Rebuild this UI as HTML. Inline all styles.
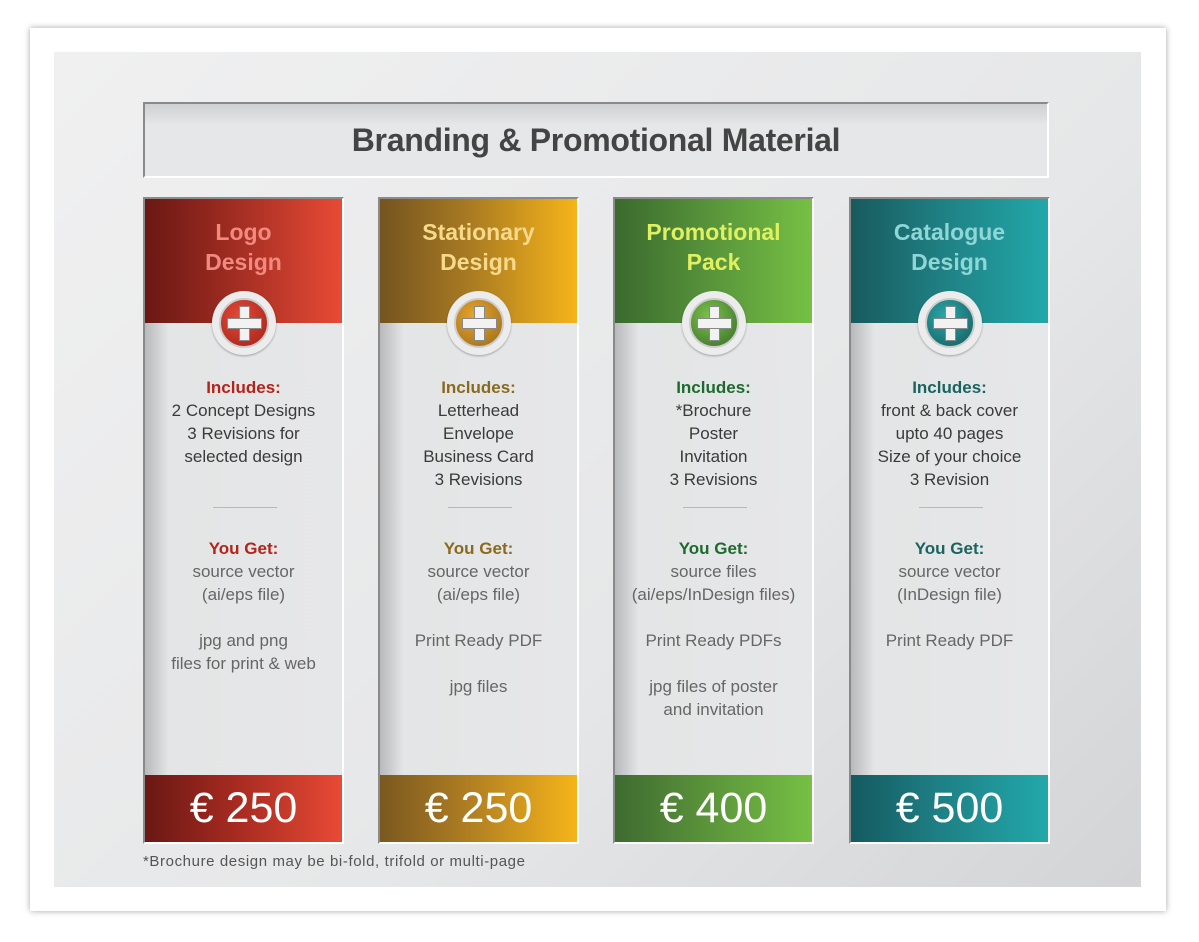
<!DOCTYPE html>
<html><head><meta charset="utf-8"><style>
*{margin:0;padding:0;box-sizing:border-box}
body{width:1199px;height:942px;background:#fff;position:relative;overflow:hidden;font-family:"Liberation Sans",sans-serif}
.frame{position:absolute;left:30px;top:28px;width:1136px;height:883px;background:#fff;box-shadow:0 0 6px rgba(0,0,0,.35)}
.panel{position:absolute;left:54px;top:52px;width:1087px;height:835px;background:linear-gradient(135deg,#f0f0f1 0%,#e6e7e8 60%,#d3d4d6 100%)}
.title{position:absolute;left:143px;top:102px;width:906px;height:76px;border-top:2px solid #8a8a8a;border-left:2px solid #8a8a8a;border-bottom:2px solid #fff;border-right:2px solid #fff;background:linear-gradient(180deg,#cfd0d2 0%,#e6e7e8 30%,#e6e7e8 100%);font-weight:bold;font-size:32px;color:#444;text-align:center;line-height:72px;letter-spacing:-0.3px}
.card{position:absolute;top:197px;width:201px;height:647px;background:linear-gradient(90deg,#b8b9bb 0%,#e4e5e6 12%,#e6e7e8 100%);border-top:2px solid #8a8a8a;border-left:2px solid #8a8a8a;border-right:2px solid #fff;border-bottom:2px solid #fff}
.head{position:absolute;left:0;top:0;width:100%;height:124px;text-align:center;font-weight:bold;font-size:23px;line-height:30px;padding-top:18px}
.icon{position:absolute;left:67px;top:92px;width:64px;height:64px;border-radius:50%;background:#ececec;box-shadow:0 1px 2px rgba(0,0,0,.3)}
.icon .in{position:absolute;left:7px;top:7px;width:50px;height:50px;border-radius:50%;border:2px solid #ccc}
.icon .v{position:absolute;left:18px;top:6px;width:11px;height:35px;background:#f2f2f2;border:1px solid #888}
.icon .h{position:absolute;left:6px;top:18px;width:35px;height:11px;background:#f2f2f2;border:1px solid #888}
.icon .c{position:absolute;left:19px;top:19px;width:9px;height:9px;background:#f2f2f2}
.body{position:absolute;left:0;width:100%;text-align:center;font-size:17px;line-height:23px}
.inc{top:177px;color:#3a3a3a}
.get{top:338px;color:#666}
.lbl{font-weight:bold}
.sep{position:absolute;left:68px;top:308px;width:64px;height:1px;background:#b8b8b8}
.price{position:absolute;left:0;top:576px;width:100%;height:67px;color:#fff;font-size:43px;text-align:center;line-height:67px}
.note{position:absolute;left:143px;top:853px;font-size:15px;color:#555;letter-spacing:0.6px}
</style></head><body>
<div class="frame"></div>
<div class="panel"></div>
<div class="title">Branding &amp; Promotional Material</div>

<div class="card" style="left:143px">
 <div class="head" style="background:linear-gradient(90deg,#6a1814,#9a2a20 40%,#e84a35);color:#f08a80">Logo<br>Design</div>
 <div class="icon"><div class="in" style="background:radial-gradient(circle at 40% 35%,#e24a38,#a42018)"><div class="v"></div><div class="h"></div><div class="c"></div></div></div>
 <div class="body inc"><div class="lbl" style="color:#b3241a">Includes:</div>2 Concept Designs<br>3 Revisions for<br>selected design</div>
 <div class="sep"></div>
 <div class="body get"><div class="lbl" style="color:#b3241a">You Get:</div>source vector<br>(ai/eps file)<br><br>jpg and png<br>files for print &amp; web</div>
 <div class="price" style="background:linear-gradient(90deg,#6a1814,#a52a20 45%,#e84a35)">€ 250</div>
</div>

<div class="card" style="left:378px">
 <div class="head" style="background:linear-gradient(90deg,#745420,#a87a22 45%,#f6b41a);color:#f6d98a">Stationary<br>Design</div>
 <div class="icon"><div class="in" style="background:radial-gradient(circle at 40% 35%,#e8a52a,#9a6a1a)"><div class="v"></div><div class="h"></div><div class="c"></div></div></div>
 <div class="body inc"><div class="lbl" style="color:#8a6a1e">Includes:</div>Letterhead<br>Envelope<br>Business Card<br>3 Revisions</div>
 <div class="sep"></div>
 <div class="body get"><div class="lbl" style="color:#8a6a1e">You Get:</div>source vector<br>(ai/eps file)<br><br>Print Ready PDF<br><br>jpg files</div>
 <div class="price" style="background:linear-gradient(90deg,#7a5820,#b07e22 45%,#f6b41a)">€ 250</div>
</div>

<div class="card" style="left:613px">
 <div class="head" style="background:linear-gradient(90deg,#3a6a2e,#56913a 45%,#76c044);color:#e0f060">Promotional<br>Pack</div>
 <div class="icon"><div class="in" style="background:radial-gradient(circle at 40% 35%,#7ac44a,#3a6a2a)"><div class="v"></div><div class="h"></div><div class="c"></div></div></div>
 <div class="body inc"><div class="lbl" style="color:#1e6a2e">Includes:</div>*Brochure<br>Poster<br>Invitation<br>3 Revisions</div>
 <div class="sep"></div>
 <div class="body get"><div class="lbl" style="color:#1e6a2e">You Get:</div>source files<br>(ai/eps/InDesign files)<br><br>Print Ready PDFs<br><br>jpg files of poster<br>and invitation</div>
 <div class="price" style="background:linear-gradient(90deg,#3e6a30,#5a923a 45%,#76c044)">€ 400</div>
</div>

<div class="card" style="left:849px">
 <div class="head" style="background:linear-gradient(90deg,#185a5e,#1f7f82 45%,#22a8aa);color:#8fd6d6">Catalogue<br>Design</div>
 <div class="icon"><div class="in" style="background:radial-gradient(circle at 40% 35%,#2aa8aa,#155a5c)"><div class="v"></div><div class="h"></div><div class="c"></div></div></div>
 <div class="body inc"><div class="lbl" style="color:#1a6460">Includes:</div>front &amp; back cover<br>upto 40 pages<br>Size of your choice<br>3 Revision</div>
 <div class="sep"></div>
 <div class="body get"><div class="lbl" style="color:#1a6460">You Get:</div>source vector<br>(InDesign file)<br><br>Print Ready PDF</div>
 <div class="price" style="background:linear-gradient(90deg,#145a60,#1e8085 45%,#22a8aa)">€ 500</div>
</div>

<div class="note">*Brochure design may be bi-fold, trifold or multi-page</div>
</body></html>
